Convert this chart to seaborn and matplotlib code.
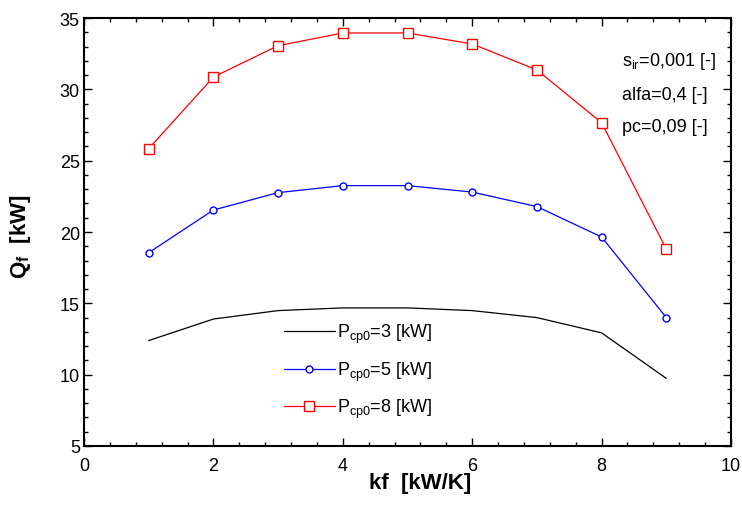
import numpy as np
import pandas as pd
import matplotlib
matplotlib.use("Agg")
import matplotlib.pyplot as plt
from matplotlib.ticker import MultipleLocator
import seaborn as sns

kf = [1, 2, 3, 4, 5, 6, 7, 8, 9]
q_p3 = [12.39, 13.90, 14.49, 14.68, 14.68, 14.49, 14.00, 12.93, 9.74]
q_p5 = [18.55, 21.54, 22.76, 23.25, 23.25, 22.80, 21.78, 19.65, 14.00]
q_p8 = [25.84, 30.86, 33.06, 33.95, 33.95, 33.18, 31.36, 27.66, 18.80]
labels = [r"$\mathregular{P_{cp0}}$=3 [kW]",
          r"$\mathregular{P_{cp0}}$=5 [kW]",
          r"$\mathregular{P_{cp0}}$=8 [kW]"]
notes = [r"$\mathregular{s_{ir}}$=0,001 [-]", "alfa=0,4 [-]", "pc=0,09 [-]"]

sns.set_theme(style="white")
plt.rcParams["font.family"] = ["Liberation Sans", "DejaVu Sans"]
plt.rcParams["mathtext.fontset"] = "custom"
plt.rcParams["mathtext.rm"] = "Liberation Sans"
plt.rcParams["mathtext.bf"] = "Liberation Sans:bold"
for k in ["text.color", "axes.labelcolor", "xtick.color", "ytick.color"]:
    plt.rcParams[k] = "black"

fig = plt.figure(figsize=(7.42, 5.06), dpi=100)
ax = fig.add_axes([84/742, 1-447/506, 647/742, 428/506])

df3 = pd.DataFrame({"kf": kf, "Q": q_p3})
df5 = pd.DataFrame({"kf": kf, "Q": q_p5})
df8 = pd.DataFrame({"kf": kf, "Q": q_p8})

sns.lineplot(data=df3, x="kf", y="Q", ax=ax, color="black", lw=0.9, label=labels[0])
sns.lineplot(data=df5, x="kf", y="Q", ax=ax, color="blue", lw=0.9, marker="o",
             markersize=5, markerfacecolor="white", markeredgecolor="blue",
             markeredgewidth=1.0, label=labels[1])
sns.lineplot(data=df8, x="kf", y="Q", ax=ax, color="red", lw=0.9, marker="s",
             markersize=7, markerfacecolor="white", markeredgecolor="red",
             markeredgewidth=1.0, label=labels[2])

ax.set_xlim(0, 10)
ax.set_ylim(5, 35)
ax.xaxis.set_major_locator(MultipleLocator(2))
ax.xaxis.set_minor_locator(MultipleLocator(0.4))
ax.yaxis.set_major_locator(MultipleLocator(5))
ax.yaxis.set_minor_locator(MultipleLocator(1))
ax.tick_params(which="both", direction="in", top=True, right=True,
               bottom=True, left=True, color="black", width=1.0)
ax.tick_params(which="major", length=6, labelsize=13)
ax.tick_params(which="minor", length=3)
ax.tick_params(axis="x", which="major", pad=8)
ax.tick_params(axis="y", which="major", pad=3)
for s in ax.spines.values():
    s.set_color("black")
    s.set_linewidth(1.5)

ax.set_xlabel("kf  [kW/K]", fontsize=16, fontweight="bold")
ax.set_ylabel(r"$\mathbf{Q_f}$  [kW]", fontsize=16, fontweight="bold")
ax.xaxis.set_label_coords((420-84)/647, -(473-447)/428)
ax.yaxis.set_label_coords(-(84-33)/647, (447-237)/428)

leg = ax.legend(loc="upper left", bbox_to_anchor=((284-84)/647, (447-323)/428),
                frameon=False, fontsize=13, handlelength=2.8, handletextpad=0.15,
                labelspacing=0.8, borderaxespad=0, borderpad=0)

for i, t in enumerate(notes):
    ax.text((622-84)/647, (447-62-33*i)/428, t, transform=ax.transAxes,
            fontsize=13, va="center", ha="left")

fig.savefig("out.png", dpi=100)
